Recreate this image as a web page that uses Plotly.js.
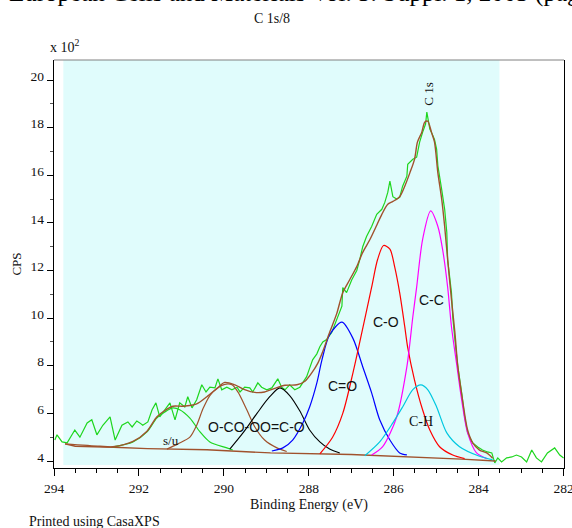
<!DOCTYPE html>
<html>
<head>
<meta charset="utf-8">
<script src="https://cdn.plot.ly/plotly-3.0.1.min.js"></script>
<style>html,body{margin:0;padding:0;background:#fff}#chart{width:572px;height:528px}</style>
</head>
<body>
<div id="chart"></div>
<script>
// ---- Data (binding energy in eV, counts in units of 10^2 CPS) ----
const rawX = [293.98,293.93,293.81,293.69,293.51,293.39,293.22,293.11,292.99,292.85,
  292.68,292.56,292.40,292.26,292.16,292.05,291.98,291.91,291.79,291.69,
  291.60,291.51,291.39,291.27,291.15,291.04,290.92,290.85,290.75,290.64,
  290.52,290.42,290.33,290.21,290.14,290.05,289.93,289.81,289.69,289.62,
  289.51,289.39,289.32,289.20,289.11,288.99,288.87,288.80,288.73,288.64,
  288.56,288.45,288.33,288.21,288.14,288.05,287.98,287.91,287.81,287.74,
  287.67,287.58,287.46,287.34,287.22,287.20,287.11,286.99,286.87,286.80,
  286.73,286.64,286.52,286.40,286.28,286.21,286.14,286.09,286.02,285.93,
  285.86,285.79,285.69,285.67,285.55,285.46,285.44,285.39,285.32,285.25,
  285.22,285.15,285.11,285.04,284.99,284.96,284.87,284.80,284.75,284.73,
  284.64,284.61,284.56,284.49,284.40,284.33,284.26,284.14,284.02,283.91,
  283.79,283.69,283.62,283.55,283.46,283.34,283.22,283.11,282.99,282.87,
  282.75,282.64,282.52,282.38,282.21,282.09,282.00];
const rawY = [4.88,5.10,4.80,4.76,5.30,5.00,5.60,5.73,5.10,5.50,
  5.85,4.88,5.50,5.64,5.43,5.68,5.60,5.50,5.64,6.15,
  6.44,5.85,6.15,6.44,5.73,6.44,6.27,6.70,6.23,6.57,
  7.20,6.90,7.10,7.07,7.45,6.99,7.10,6.99,7.10,6.90,
  7.10,7.07,6.90,7.28,7.10,6.99,7.07,7.28,7.45,7.10,
  6.99,7.20,6.99,7.10,7.28,7.54,7.90,8.25,8.50,8.80,
  9.00,9.10,9.40,9.94,10.50,11.28,11.07,11.60,12.00,12.46,
  13.00,13.43,13.85,14.36,14.57,14.86,15.28,15.75,15.10,15.00,
  15.07,15.54,15.96,16.46,16.67,16.76,16.97,17.39,17.80,18.15,
  18.65,17.94,17.80,17.50,17.10,16.40,15.40,14.57,13.60,12.46,
  11.07,10.06,9.10,7.96,6.86,5.85,5.18,4.76,4.59,4.46,
  4.38,4.34,3.92,4.13,3.96,4.13,4.17,4.25,4.17,3.96,
  4.46,4.13,3.96,4.34,4.55,4.25,4.13];

const envX = [293.74,292.92,292.61,292.14,291.81,291.58,291.39,291.20,290.96,290.64,
  290.40,290.16,289.98,289.74,289.51,289.27,289.04,288.80,288.56,288.28,
  288.09,287.93,287.79,287.67,287.58,287.51,287.34,287.20,287.04,286.87,
  286.73,286.56,286.40,286.28,286.14,286.02,285.86,285.74,285.62,285.51,
  285.44,285.34,285.27,285.20,285.11,285.04,284.96,284.87,284.80,284.73,
  284.64,284.56,284.49,284.38,284.26,284.14,283.98,283.81,283.67];
const envY = [4.72,4.62,4.60,4.82,5.25,5.85,6.12,6.30,6.30,6.40,
  6.70,7.05,7.30,7.20,7.00,6.88,6.90,7.05,7.18,7.20,
  7.35,7.70,8.10,8.60,9.05,9.40,10.20,11.07,11.60,12.17,
  12.76,13.30,13.90,14.36,14.78,14.90,15.10,15.54,16.10,16.67,
  17.40,17.80,18.23,18.27,17.80,17.40,16.10,15.00,13.85,12.46,
  10.78,9.40,7.96,6.57,5.30,4.76,4.46,4.34,4.12];

const bgX = [293.74,293.50,292.60,291.80,290.40,288.90,287.00,285.90,284.40,283.60];
const bgY = [4.72,4.62,4.58,4.52,4.47,4.34,4.27,4.20,4.08,4.00];

const suX = [292.61,292.14,291.81,291.58,291.39,291.20,291.04,290.80,290.56,290.33,289.93,289.79];
const suY = [4.59,4.80,5.22,5.80,6.06,6.23,6.15,5.80,5.22,4.80,4.55,4.46];

const ocooX = [291.34,291.08,290.80,290.64,290.49,290.33,290.16,289.98,289.81,289.67,289.46,289.27,289.04,288.75,288.52];
const ocooY = [4.50,4.72,5.00,5.50,6.20,6.75,7.05,7.22,7.20,6.90,6.15,5.43,4.88,4.55,4.40];

const oco2X = [289.86,289.55,289.22,288.92,288.68,288.45,288.21,287.98,287.74,287.51,287.27];
const oco2Y = [4.50,5.18,6.00,6.70,7.07,6.75,6.10,5.30,4.80,4.50,4.34];

const cdoX = [288.87,288.61,288.38,288.14,287.98,287.81,287.69,287.51,287.22,286.96,286.73,286.52,286.33,286.09,285.86,285.69];
const cdoY = [4.42,4.55,4.88,5.60,6.27,7.28,8.25,9.30,9.83,9.15,7.96,6.86,5.73,4.88,4.34,4.26];

const coX = [287.74,287.44,287.20,286.96,286.75,286.52,286.38,286.24,286.09,285.98,285.86,285.74,285.67,285.51,285.32,285.15,284.92,284.61,284.33];
const coY = [4.30,5.00,6.00,7.70,9.40,11.30,12.46,13.05,12.90,12.17,11.07,9.64,8.76,7.40,6.15,5.30,4.60,4.25,4.10];

const ccX = [286.52,286.26,285.93,285.69,285.55,285.46,285.32,285.13,284.96,284.85,284.73,284.64,284.52,284.40,284.26,284.05,283.81];
const ccY = [4.25,4.60,5.85,7.96,10.06,11.30,13.30,14.50,13.85,12.90,11.30,9.64,8.10,6.57,5.18,4.34,4.10];

const chX = [286.68,286.33,286.02,285.79,285.55,285.36,285.20,284.99,284.75,284.45,283.98,283.67];
const chY = [4.22,4.80,5.60,6.27,7.00,7.20,7.00,6.27,5.18,4.60,4.20,4.05];

const xTickVals = [294,292,290,288,286,284,282];
const xTickText = ['294','292','290','288','286','284','282'];
const yTickVals = [4,6,8,10,12,14,16,18,20];
const yTickText = ['4','6','8','10','12','14','16','18','20'];

const peakLabels = ['C 1s','C-C','C-O','C=O','C-H','O-CO-O','O=C-O','s/u'];
const peakLabelX = [285.20,285.12,286.18,287.21,285.35,289.76,288.62,291.25];
const peakLabelY = [19.41,10.76,9.84,7.15,5.64,5.43,5.43,4.88];

// ---- Styling ----
const SERIF = 'Liberation Serif, Times New Roman, serif';
const SANS = 'Liberation Sans, Arial, sans-serif';
const GREEN = '#1ed61e', BROWN = '#a0522d';

function line(x, y, color, width, shape) {
  return {x: x, y: y, type: 'scatter', mode: 'lines', hoverinfo: 'skip',
    line: {color: color, width: width, shape: shape || 'spline', smoothing: 0.8}};
}

const traces = [
  line(rawX, rawY, GREEN, 1.2, 'linear'),
  line(bgX, bgY, BROWN, 1.4, 'linear'),
  line(suX, suY, GREEN, 1.2),
  line(ocooX, ocooY, BROWN, 1.2),
  line(oco2X, oco2Y, '#000000', 1.1),
  line(cdoX, cdoY, '#0000ff', 1.2),
  line(coX, coY, '#ff0000', 1.2),
  line(ccX, ccY, '#ff00ff', 1.2),
  line(chX, chY, '#00c8e0', 1.2),
  line(envX, envY, BROWN, 1.4)
];

const labelFonts = [SERIF, SANS, SANS, SANS, SERIF, SANS, SANS, SERIF];
const labelSizes = [13, 14, 14, 14, 14, 14, 14, 13];
const annotations = peakLabels.map((t, i) => ({
  text: t, x: peakLabelX[i], y: peakLabelY[i], xref: 'x', yref: 'y',
  showarrow: false, textangle: i === 0 ? -90 : 0,
  font: {family: labelFonts[i], size: labelSizes[i], color: '#111'}
}));
annotations.push(
  {text: 'x 10<sup>2</sup>', xref: 'paper', yref: 'paper', x: -0.012, xanchor: 'left',
   y: 1.007, yanchor: 'bottom',
   showarrow: false, font: {family: SERIF, size: 14, color: '#111'}},
  {text: 'European Cells and Materials Vol. 5. Suppl. 1, 2003 (page', xref: 'paper', yref: 'paper',
   x: -0.092, xanchor: 'left', y: 1.165, yanchor: 'middle',
   showarrow: false, font: {family: SERIF, size: 25, color: '#000'}},
  {text: 'Printed using CasaXPS', xref: 'paper', yref: 'paper',
   x: -0.053, xanchor: 'left', y: -0.13, yanchor: 'middle',
   showarrow: false, font: {family: SERIF, size: 14, color: '#111'}}
);

const layout = {
  width: 572, height: 528,
  margin: {l: 54, r: 8, t: 60, b: 60},
  paper_bgcolor: '#ffffff', plot_bgcolor: '#ffffff',
  showlegend: false,
  title: {text: 'C 1s/8', font: {family: SERIF, size: 14, color: '#111'},
    x: 272 / 572, xref: 'container', xanchor: 'center',
    y: 1 - 18 / 528, yref: 'container', yanchor: 'middle'},
  xaxis: {
    range: [294, 281.99], tickvals: xTickVals, ticktext: xTickText,
    ticks: 'outside', ticklen: 7, tickwidth: 1, tickcolor: '#000',
    minor: {dtick: 0.5, ticks: 'outside', ticklen: 4, tickcolor: '#000', tick0: 282},
    showline: true, linecolor: '#000', linewidth: 1.3, mirror: false,
    showgrid: false, zeroline: false, fixedrange: true,
    ticklabeloverflow: 'allow',
    tickfont: {family: SERIF, size: 13.5, color: '#111'},
    title: {text: 'Binding Energy (eV)', font: {family: SERIF, size: 14, color: '#111'}, standoff: 4}
  },
  yaxis: {
    range: [3.706, 20.84], tickvals: yTickVals, ticktext: yTickText,
    ticks: 'outside', ticklen: 6, tickwidth: 1, tickcolor: '#000',
    minor: {dtick: 1, tick0: 3, ticks: 'outside', ticklen: 3, tickcolor: '#555'},
    ticklabelshift: -4,
    showline: true, linecolor: '#000', linewidth: 1.3, mirror: true,
    showgrid: false, zeroline: false, fixedrange: true,
    tickfont: {family: SERIF, size: 13.5, color: '#111'},
    title: {text: 'CPS', font: {family: SERIF, size: 13, color: '#111'}, standoff: 6}
  },
  shapes: [
    {type: 'rect', xref: 'x', yref: 'y', x0: 293.78, x1: 283.51, y0: 3.83, y1: 20.84,
     fillcolor: '#e0fcfc', line: {width: 0}, layer: 'below'},
    {type: 'line', xref: 'paper', yref: 'paper', x0: 0, x1: 1, y0: 1, y1: 1,
     line: {color: '#808080', width: 1}}
  ],
  annotations: annotations
};

Plotly.newPlot('chart', traces, layout, {staticPlot: true, displayModeBar: false});
</script>
</body>
</html>
